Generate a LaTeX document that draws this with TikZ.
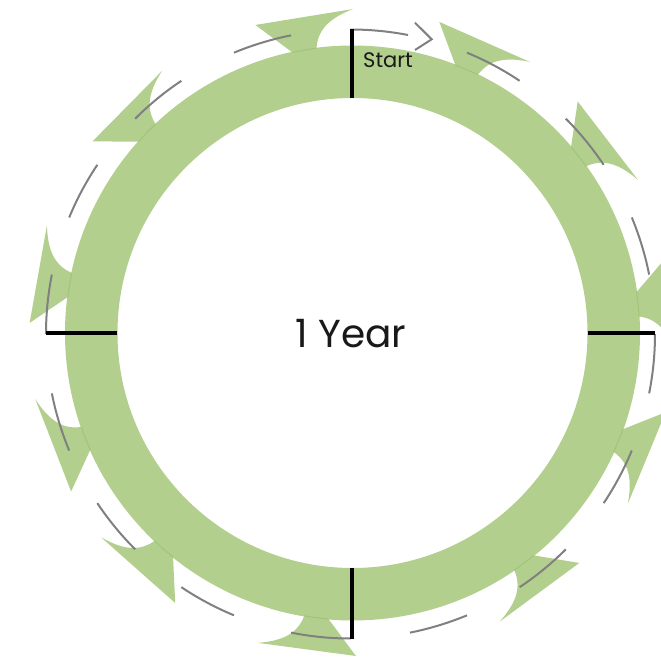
\documentclass[tikz,border=0pt]{standalone}
\usepackage{fontspec}
\setmainfont{Poppins}
\definecolor{ringgreen}{RGB}{178,207,142}
\definecolor{seamgreen}{RGB}{160,197,120}
\definecolor{dashgray}{RGB}{128,128,128}
\definecolor{textdark}{RGB}{25,25,25}
\newcommand{\gheadat}[1]{%
  \pgfmathsetmacro{\pT}{90-#1}%
  \pgfmathsetmacro{\pa}{\pT+3.5}%
  \pgfmathsetmacro{\pb}{\pT+6.6}%
  \pgfmathsetmacro{\pC}{\pT+7.3}%
  \pgfmathsetmacro{\pD}{\pT+12.2}%
  \pgfmathsetmacro{\pA}{\pT+17.6}%
  \fill[ringgreen] (\pT:324) .. controls (\pa:317) and (\pb:308) .. (\pC:287)
     -- (\pC:275) -- (\pD:275) -- (\pD:287) -- (\pA:323) -- cycle;
  \draw[seamgreen, line width=1pt] (\pC:287) arc[start angle=\pC, end angle=\pD, radius=287];
}
\begin{document}
\begin{tikzpicture}[x=1pt,y=1pt,
  dashline/.style={draw=dashgray, line width=2pt},
  tickline/.style={draw=black, line width=4pt},
  lbl/.style={text=textdark, inner sep=0pt}]
\useasboundingbox (-352.5,-331) rectangle (308.5,333);
% ring
\fill[ringgreen, even odd rule] (0,0) circle[radius=287.5] (0,0) circle[radius=235];
% arrow heads
\foreach \t in {0.1,33.2,61.8,94,121.8,153,197,230.9,258.2,289.4,324} {\gheadat{\t}}
% dashed circle
\begin{scope}[shift={(-2,-1)}]
  \foreach \k in {1,...,15} {
    \pgfmathsetmacro{\sa}{90-22.5*\k}
    \pgfmathsetmacro{\se}{\sa-11.25}
    \draw[dashline] (\sa:304.5) arc[start angle=\sa, end angle=\se, radius=304.5];
  }
  \draw[dashline] (90:304.5) arc[start angle=90, end angle=79.1, radius=304.5];
\end{scope}
\draw[dashline, line join=miter] (62.5,310.3) -- (79.2,293.7) -- (62.5,283);
% ticks
\coordinate (tN1) at (0,235);  \coordinate (tN2) at (0,303.5);
\coordinate (tE1) at (235,0);  \coordinate (tE2) at (302.5,0);
\coordinate (tS1) at (0,-235); \coordinate (tS2) at (0,-305.5);
\coordinate (tW1) at (-235,0); \coordinate (tW2) at (-306.5,0);
\draw[tickline] (tN1) -- (tN2);
\draw[tickline] (tE1) -- (tE2);
\draw[tickline] (tS1) -- (tS2);
\draw[tickline] (tW1) -- (tW2);
% labels
\node[lbl, anchor=base, font=\fontsize{39}{39}\selectfont] (year) at (-1.5,-14) {1 Year};
\node[lbl, anchor=base west, font=\fontsize{21}{21}\selectfont] (start) at (10.5,265) {Start};
\end{tikzpicture}
\end{document}
